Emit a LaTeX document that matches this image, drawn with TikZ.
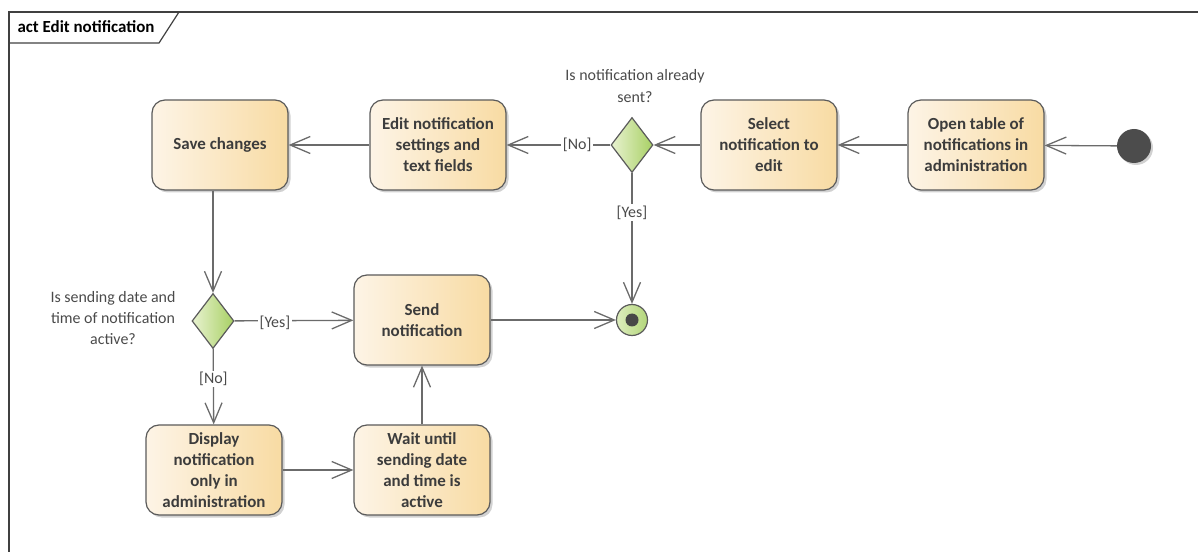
\documentclass[tikz,border=0pt]{standalone}
\usepackage{fontspec}
\setmainfont{Carlito}
\usetikzlibrary{arrows.meta,shapes.geometric,shadows}
\definecolor{actL}{HTML}{FDF4E6}
\definecolor{actR}{HTML}{F8DBA3}
\definecolor{edgec}{HTML}{6B6B6B}
\definecolor{txt}{HTML}{3C3C3C}
\definecolor{lbl}{HTML}{4A4A4A}
\definecolor{decL}{HTML}{E8F2D0}
\definecolor{decR}{HTML}{A8D064}
\definecolor{finL}{HTML}{DDEDBE}
\definecolor{finR}{HTML}{B3D67A}
\tikzset{
  action/.style={rounded corners=13bp, draw=edgec!85!black, line width=1.2bp,
    left color=actL, right color=actR, minimum width=136bp, minimum height=90bp,
    align=center, inner sep=0pt,
    font=\fontsize{17}{21}\selectfont\bfseries, text=txt,
    drop shadow={shadow xshift=2.5bp, shadow yshift=-2.5bp, fill=black!30, opacity=0.6}},
  decision/.style={diamond, draw=edgec!85!black, line width=1.2bp, left color=decL, right color=decR,
    minimum width=42bp, minimum height=55bp, inner sep=0pt},
  initnode/.style={circle, fill=black!70, minimum size=34bp, inner sep=0pt,
    drop shadow={shadow xshift=2bp, shadow yshift=-2bp, fill=black!30, opacity=0.6}},
  finnode/.style={circle, draw=edgec!85!black, line width=1.2bp, left color=finL, right color=finR, minimum size=31bp, inner sep=0pt},
  findot/.style={circle, fill=black!72, minimum size=13bp, inner sep=0pt},
  flow/.style={draw=edgec, line width=1.3bp, -{Straight Barb[length=20bp,width=17bp,line width=1.3bp]}},
  guard/.style={fill=white, inner sep=1.5bp, text=lbl, font=\fontsize{16}{18}\selectfont},
  question/.style={align=center, text=lbl, font=\fontsize{16}{21.5}\selectfont},
  framelbl/.style={anchor=west, text=black, font=\fontsize{17}{19}\selectfont\bfseries}
}
\begin{document}
\begin{tikzpicture}[x=1bp,y=-1bp]
\useasboundingbox (0,0) rectangle (1198,552);
% frame
\draw[draw=black!75, line width=1.2bp] (9,552) -- (9,12) -- (1198,12);
\draw[draw=black!75, line width=1.2bp] (9,43) -- (159,43) -- (179,12);
\node[framelbl] (title) at (14,27) {act Edit notification};
% nodes
\node[initnode] (init) at (1134,146) {};
\node[action] (open) at (976,145) {Open table of\\notifications in\\administration};
\node[action] (select) at (769,145) {Select\\notification to\\edit};
\node[decision] (d1) at (632,145) {};
\node[question] (q1) at (635,86) {Is notification already\\sent?};
\node[action] (edit) at (438,145) {Edit notification\\settings and\\text fields};
\node[action] (save) at (220,145) {Save changes};
\node[decision] (d2) at (213,321) {};
\node[question] (q2) at (113,318) {Is sending date and\\time of notification\\active?};
\node[action] (send) at (422,320) {Send\\notification};
\node[action] (disp) at (214,470) {Display\\notification\\only in\\administration};
\node[action] (wait) at (422,470) {Wait until\\sending date\\and time is\\active};
\node[finnode] (fin) at (632,320) {};
\node[findot] (findot) at (fin) {};
% flows
\draw[flow] (init) -- (open);
\draw[flow] (open) -- (select);
\draw[flow] (select) -- (d1);
\draw[flow] (d1) -- node[guard, pos=0.32] {[No]} (edit);
\draw[flow] (d1) -- node[guard, pos=0.3] {[Yes]} (fin);
\draw[flow] (edit) -- (save);
\draw[flow] (d2 |- save.south) -- (d2);
\draw[flow] (d2) -- node[guard, pos=0.34, yshift=-2bp] {[Yes]} (send);
\draw[flow] (d2) -- node[guard, pos=0.4] {[No]} (disp);
\draw[flow] (disp) -- (wait);
\draw[flow] (wait) -- (send);
\draw[flow] (send) -- (fin);
\end{tikzpicture}
\end{document}
